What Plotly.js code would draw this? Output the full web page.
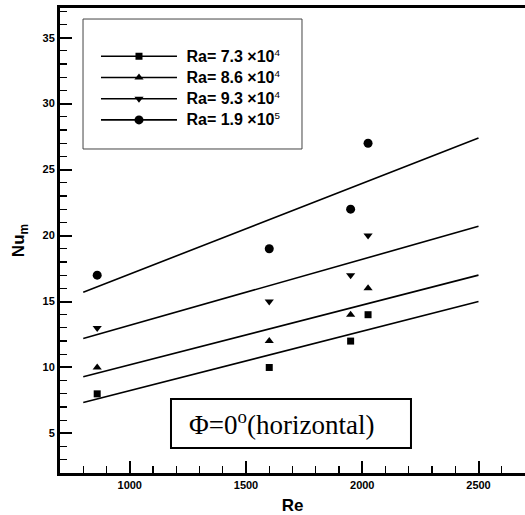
<!DOCTYPE html>
<html>
<head>
<meta charset="utf-8">
<script src="https://cdn.plot.ly/plotly-3.0.1.min.js"></script>
<style>body{margin:0;padding:0;background:#fff;}#chart{width:525px;height:515px;}</style>
</head>
<body>
<div id="chart"></div>
<script>
// Data
const seriesLabels = ['Ra= 7.3 ×10', 'Ra= 8.6 ×10', 'Ra= 9.3 ×10', 'Ra= 1.9 ×10'];
const seriesExponents = ['4', '4', '4', '5'];
const reValues = [860, 1600, 1950, 2025];
const nuRa73 = [8, 10, 12, 14];
const nuRa86 = [10, 12, 14, 16];
const nuRa93 = [13, 15, 17, 20];
const nuRa19 = [17, 19, 22, 27];
// Fitted lines: Re range and Nu at the ends
const fitRe = [800, 2500];
const fitRa73 = [7.35, 15.0];
const fitRa86 = [9.3, 17.0];
const fitRa93 = [12.2, 20.7];
const fitRa19 = [15.7, 27.4];
const symbols = ['square', 'triangle-up', 'triangle-down', 'circle'];
const markerSizes = [7, 8, 8, 9];

const pointSets = [nuRa73, nuRa86, nuRa93, nuRa19];
const fitSets = [fitRa73, fitRa86, fitRa93, fitRa19];

const traces = [];
for (let i = 0; i < 4; i++) {
  traces.push({
    x: fitRe, y: fitSets[i], type: 'scatter', mode: 'lines',
    line: {color: '#000', width: 1.6},
    showlegend: false, hoverinfo: 'skip'
  });
  traces.push({
    x: reValues, y: pointSets[i], type: 'scatter', mode: 'markers',
    marker: {symbol: symbols[i], size: markerSizes[i], color: '#000'},
    showlegend: false
  });
}
// legend entries (line + marker sample)
for (let i = 0; i < 4; i++) {
  traces.push({
    x: [null], y: [null], type: 'scatter', mode: 'lines+markers',
    name: '<span style="font-size:16px">\u00A0' + seriesLabels[i] + '</span><sup><span style="font-weight:normal">' + seriesExponents[i] + '</span></sup>',
    line: {color: '#000', width: 1.6},
    marker: {symbol: symbols[i], size: markerSizes[i], color: '#000'},
    showlegend: true
  });
}

const tickFont = {family: 'Liberation Sans, Arial, sans-serif', size: 11, color: '#000', weight: 'bold'};
const layout = {
  width: 525, height: 515,
  margin: {l: 60, r: 0, t: 8, b: 42},
  paper_bgcolor: '#fff', plot_bgcolor: '#fff',
  showlegend: true,
  xaxis: {
    range: [700, 2700], dtick: 500, tick0: 0,
    ticks: 'inside', ticklen: 12, tickwidth: 2, tickcolor: '#000',
    minor: {dtick: 100, ticks: 'inside', ticklen: 7, tickwidth: 1.2, tickcolor: '#000'},
    showline: true, linewidth: 3, linecolor: '#000', mirror: true,
    showgrid: false, zeroline: false,
    tickfont: tickFont,
    title: {text: 'Re', font: {family: 'Liberation Sans, Arial, sans-serif', size: 17, color: '#000', weight: 'bold'}, standoff: 9}
  },
  yaxis: {
    range: [2, 37.25], dtick: 5, tick0: 0,
    ticks: 'inside', ticklen: 12, tickwidth: 2, tickcolor: '#000',
    minor: {dtick: 1, ticks: 'inside', ticklen: 7, tickwidth: 1.2, tickcolor: '#000'},
    showline: true, linewidth: 3, linecolor: '#000', mirror: false,
    showgrid: false, zeroline: false,
    tickfont: tickFont,
    title: {text: 'Nu<sub>m</sub>', font: {family: 'Liberation Sans, Arial, sans-serif', size: 17, color: '#000', weight: 'bold'}, standoff: 14}
  },
  legend: {
    x: 0.0774, y: 0.9297, xanchor: 'left', yanchor: 'top',
    bgcolor: 'rgba(0,0,0,0)', borderwidth: 0,
    itemwidth: 76,
    font: {family: 'Liberation Sans, Arial, sans-serif', size: 14, color: '#000', weight: 'bold'}
  },
  shapes: [
    {type: 'rect', xref: 'paper', yref: 'paper', x0: 0.0495, x1: 0.5204, y0: 0.6968, y1: 0.9763,
     line: {color: '#444', width: 1}, fillcolor: 'rgba(0,0,0,0)'},
    {type: 'rect', xref: 'paper', yref: 'paper', x0: 0.2387, x1: 0.7548, y0: 0.0538, y1: 0.1591,
     line: {color: '#000', width: 2}, fillcolor: 'rgba(0,0,0,0)'}
  ],
  annotations: [
    {xref: 'paper', yref: 'paper', x: 0.477, y: 0.1065, xanchor: 'center', yanchor: 'middle',
     text: 'Φ=0<sup>o</sup>(horizontal)', showarrow: false,
     font: {family: 'Liberation Serif, Times New Roman, serif', size: 27, color: '#000'}}
  ]
};

Plotly.newPlot('chart', traces, layout, {staticPlot: true, displayModeBar: false});
</script>
</body>
</html>
